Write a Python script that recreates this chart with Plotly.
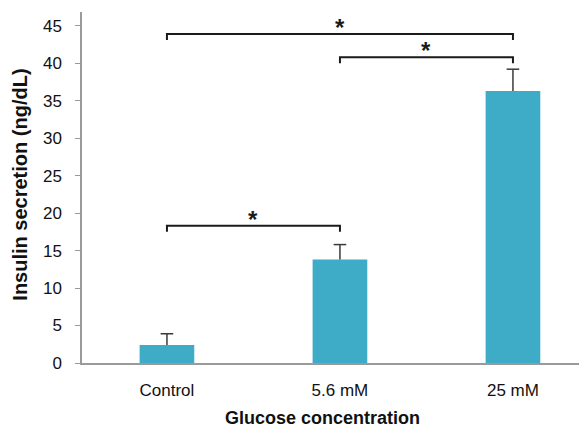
import plotly.graph_objects as go

categories = ["Control", "5.6 mM", "25 mM"]
insulin = [2.4, 13.8, 36.3]
errors = [1.5, 2.0, 2.9]

# significance brackets: start category, end category, bracket height
bracket_start = [0, 1, 0]
bracket_end = [2, 2, 1]
bracket_height = [43.9, 40.8, 18.3]
bracket_label = ["*", "*", "*"]
tick_drop = 0.8

BAR = "#3eacc6"
ERR = "#3a3a3a"
FONT = "Liberation Sans, Arial"

xs = list(range(len(categories)))
fig = go.Figure()
fig.add_trace(go.Bar(
    x=xs, y=insulin, width=0.316,
    marker=dict(color=BAR, line=dict(width=0)),
    showlegend=False, hoverinfo="skip",
))

# one-sided (upper) error bars: stem + cap
stem_x, stem_y = [], []
for i, (v, e) in enumerate(zip(insulin, errors)):
    stem_x += [i, i, None]
    stem_y += [v, v + e, None]
fig.add_trace(go.Scatter(x=stem_x, y=stem_y, mode="lines",
                         line=dict(color=ERR, width=1.5), showlegend=False, hoverinfo="skip"))
fig.add_trace(go.Scatter(x=xs, y=[v + e for v, e in zip(insulin, errors)], mode="markers",
                         marker=dict(symbol="line-ew", size=9, line=dict(color=ERR, width=1.5)),
                         showlegend=False, hoverinfo="skip"))

for s, e, h, lab in zip(bracket_start, bracket_end, bracket_height, bracket_label):
    fig.add_trace(go.Scatter(
        x=[s, s, e, e], y=[h - tick_drop, h, h, h - tick_drop],
        mode="lines", line=dict(color="#1a1a1a", width=2),
        showlegend=False, hoverinfo="skip",
    ))
    fig.add_annotation(x=(s + e) / 2, y=h, text="<b>" + lab + "</b>", showarrow=False,
                       xref="x", yref="y", yanchor="bottom", yshift=-9,
                       font=dict(family=FONT, size=24, color="#1a1a1a"))

fig.add_annotation(text="<b>Glucose concentration</b>", xref="paper", yref="paper",
                   x=0.477, y=0, yshift=-55, xanchor="center", yanchor="middle", showarrow=False,
                   font=dict(family=FONT, size=18, color="#111"))
fig.add_annotation(text="<b>Insulin secretion (ng/dL)</b>", xref="paper", yref="paper",
                   x=-0.1228, y=0.508, xanchor="center", yanchor="middle", textangle=-90,
                   showarrow=False,
                   font=dict(family=FONT, size=20, color="#111"))

fig.update_layout(
    width=579, height=421,
    margin=dict(l=74, r=0, t=4, b=66),
    paper_bgcolor="white", plot_bgcolor="white",
    font=dict(family=FONT, size=17, color="#111"),
    xaxis=dict(
        range=[-0.491, 2.428], tickmode="array", tickvals=xs,
        ticktext=categories, showgrid=False, zeroline=False,
        showline=True, linecolor="#9a9a9a", linewidth=1.5, ticks="",
        ticklabelstandoff=11, fixedrange=True,
    ),
    yaxis=dict(
        range=[0, 46.83], tickmode="linear", tick0=0, dtick=5,
        showgrid=False, zeroline=False, showline=True, linecolor="#9a9a9a", linewidth=1.5,
        ticks="outside", ticklen=5, tickcolor="#9a9a9a", tickwidth=1,
        ticklabelstandoff=10, fixedrange=True,
    ),
)

fig.write_html("out.html")
